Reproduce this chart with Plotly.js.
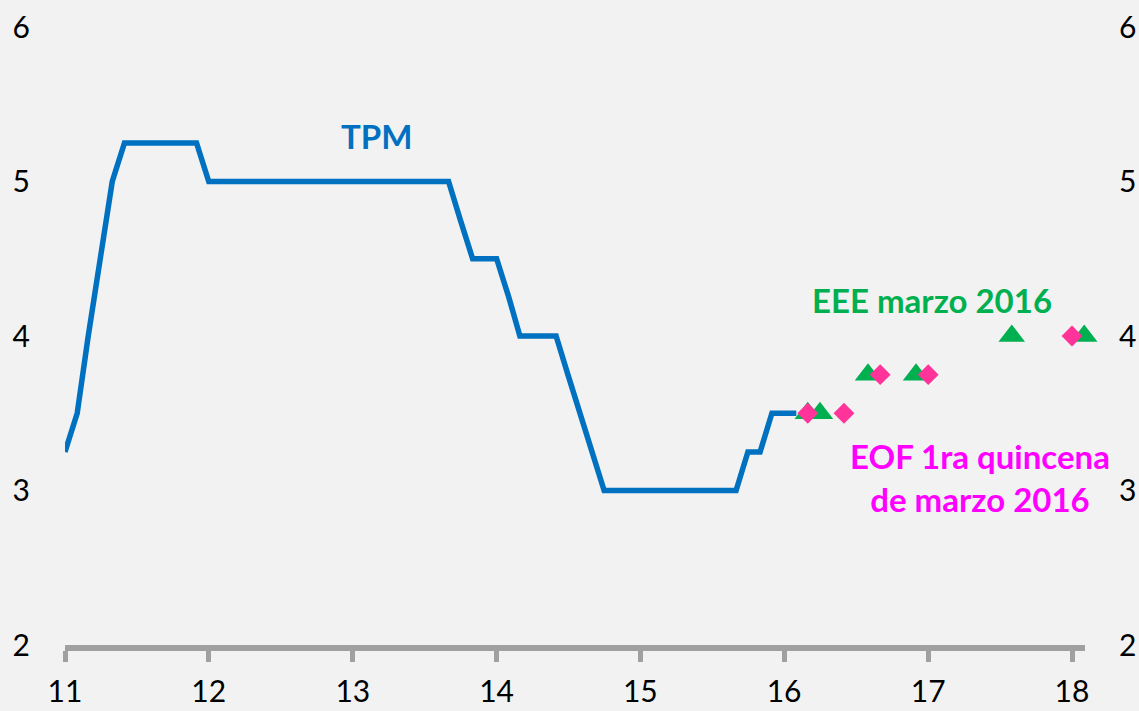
<!DOCTYPE html>
<html>
<head>
<meta charset="utf-8">
<script src="https://cdn.plot.ly/plotly-3.0.1.min.js"></script>
<style>html,body{margin:0;padding:0;background:#F2F2F2;}#chart{width:1139px;height:711px;}</style>
</head>
<body>
<div id="chart"></div>
<script>
// TPM monthly values, Jan 2011 .. Feb 2016
const tpmStart = [2011, 1];
const tpmValues = [
  3.25, 3.5, 4.0, 4.5, 5.0, 5.25, 5.25, 5.25, 5.25, 5.25, 5.25, 5.25,
  5.0, 5.0, 5.0, 5.0, 5.0, 5.0, 5.0, 5.0, 5.0, 5.0, 5.0, 5.0,
  5.0, 5.0, 5.0, 5.0, 5.0, 5.0, 5.0, 5.0, 5.0, 4.75, 4.5, 4.5,
  4.5, 4.25, 4.0, 4.0, 4.0, 4.0, 3.75, 3.5, 3.25, 3.0, 3.0, 3.0,
  3.0, 3.0, 3.0, 3.0, 3.0, 3.0, 3.0, 3.0, 3.0, 3.25, 3.25, 3.5,
  3.5, 3.5
];
// EEE marzo 2016 (triangles)
const eeeDates = ['2016-03-01', '2016-04-01', '2016-08-01', '2016-12-01', '2017-08-01', '2018-02-01'];
const eeeValues = [3.5, 3.5, 3.75, 3.75, 4.0, 4.0];
// EOF 1ra quincena de marzo 2016 (diamonds)
const eofDates = ['2016-03-01', '2016-06-01', '2016-09-01', '2017-01-01', '2018-01-01'];
const eofValues = [3.5, 3.5, 3.75, 3.75, 4.0];
const yTicks = [2, 3, 4, 5, 6];

const tpmDates = tpmValues.map((v, i) => {
  const m = tpmStart[1] - 1 + i;
  const y = tpmStart[0] + Math.floor(m / 12);
  const mm = (m % 12) + 1;
  return y + '-' + String(mm).padStart(2, '0') + '-01';
});

const FONT = 'Lato, "Open Sans", sans-serif';

const traces = [
  {x: tpmDates, y: tpmValues, type: 'scatter', mode: 'lines',
   line: {color: '#0070C0', width: 5.5}, hoverinfo: 'skip', cliponaxis: false},
  {x: eeeDates, y: eeeValues, type: 'scatter', mode: 'markers',
   marker: {symbol: 'triangle-up', size: 23, color: '#00B050'}, cliponaxis: false},
  {x: eofDates, y: eofValues, type: 'scatter', mode: 'markers',
   marker: {symbol: 'diamond', size: 16, color: '#FF3399'}, cliponaxis: false},
  {x: [tpmDates[0]], y: [yTicks[0]], yaxis: 'y2', type: 'scatter', mode: 'markers',
   marker: {opacity: 0}, hoverinfo: 'skip'}
];

const layout = {
  width: 1139, height: 711,
  paper_bgcolor: '#F2F2F2', plot_bgcolor: '#F2F2F2',
  margin: {l: 65, r: 54, t: 27, b: 66},
  showlegend: false,
  font: {family: FONT, color: '#000000', size: 30},
  xaxis: {
    type: 'date', range: ['2011-01-01', '2018-02-03'],
    tickformat: '%y', dtick: 'M12', tick0: '2011-01-01',
    showgrid: false, zeroline: false,
    showline: true, linecolor: '#A0A0A0', linewidth: 6,
    ticks: 'outside', ticklen: 11, tickwidth: 5, tickcolor: '#A0A0A0',
    ticklabelstandoff: 4,
    tickfont: {family: FONT, size: 30, color: '#000'}
  },
  yaxis: {
    range: [2, 6], tickvals: yTicks, showgrid: false, zeroline: false,
    showline: false, ticks: '', ticklabelstandoff: 34,
    tickfont: {family: FONT, size: 30, color: '#000'}
  },
  yaxis2: {
    range: [2, 6], tickvals: yTicks, overlaying: 'y', side: 'right',
    showgrid: false, zeroline: false, showline: false, ticks: '',
    ticklabelstandoff: 33,
    tickfont: {family: FONT, size: 30, color: '#000'}
  },
  annotations: [
    {text: '<b>TPM</b>', xref: 'paper', yref: 'paper', x: (376 - 65) / 1020, y: (645 - 136) / 618,
     showarrow: false, xanchor: 'center', yanchor: 'middle',
     font: {family: FONT, size: 33, color: '#0070C0'}},
    {text: '<b>EEE marzo 2016</b>', xref: 'paper', yref: 'paper', x: (932 - 65) / 1020, y: (645 - 300) / 618,
     showarrow: false, xanchor: 'center', yanchor: 'middle',
     font: {family: FONT, size: 33, color: '#00B050'}},
    {text: '<b>EOF 1ra quincena<br>de marzo 2016</b>', xref: 'paper', yref: 'paper', x: (980 - 65) / 1020, y: (645 - 477) / 618,
     showarrow: false, xanchor: 'center', yanchor: 'middle', align: 'center',
     font: {family: FONT, size: 33, color: '#FF00FF'}}
  ]
};

Plotly.newPlot('chart', traces, layout, {displayModeBar: false, staticPlot: true});
</script>
</body>
</html>
